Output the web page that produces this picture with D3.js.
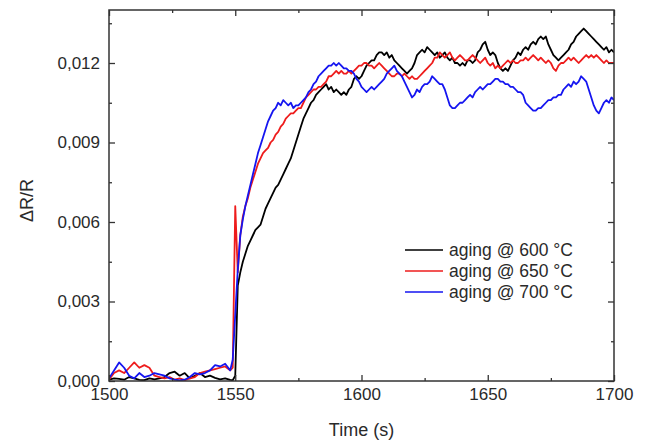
<!DOCTYPE html>
<html>
<head>
<meta charset="utf-8">
<script src="https://cdn.jsdelivr.net/npm/d3@7"></script>
<style>
html,body{margin:0;padding:0;background:#fff;}
svg{display:block;font-family:"Liberation Sans",Arial,sans-serif;}
</style>
</head>
<body>
<svg id="chart" width="650" height="444"></svg>
<script>
// ---- DATA ----
// sample times: 2 s steps on the baseline (1500..1548), 1 s steps from 1549 to 1700
const timeBase = d3.range(1500, 1549, 2);
const timeMain = d3.range(1549, 1701, 1);
const time = timeBase.concat(timeMain);

const seriesNames = ["aging @ 600 °C", "aging @ 650 °C", "aging @ 700 °C"];
const seriesColors = ["#000000", "#ee1c1c", "#1515f0"];

const aging600 = [
  // 1500..1548 (step 2)
  0.00005,0.0001,0.00008,0.00005,0.00015,0.0001,0.00004,0.00003,0.0001,0.00006,
  0.0001,0.00015,0.0003,0.00035,0.0002,0.0003,0.0001,0.0002,0.0003,0.00015,
  0.0002,0.00012,0.00006,0.0001,0.00004,
  // 1549
  0.00003,
  // 1550..1559
  0.0002,0.0036,0.0041,0.0045,0.0048,0.0051,0.0053,0.0055,0.0057,0.0058,
  // 1560..1569
  0.0059,0.0062,0.0065,0.0067,0.0069,0.0071,0.0073,0.0074,0.0076,0.0078,
  // 1570..1579
  0.0080,0.0082,0.0084,0.0087,0.0090,0.0093,0.0096,0.0099,0.0101,0.0103,
  // 1580..1589
  0.0105,0.0106,0.0108,0.0109,0.0110,0.0111,0.0112,0.0110,0.0111,0.0109,
  // 1590..1599
  0.0110,0.0109,0.0108,0.0109,0.0108,0.0110,0.0111,0.0114,0.0115,0.0114,
  // 1600..1609
  0.0115,0.0117,0.0119,0.0120,0.0121,0.0121,0.0123,0.0124,0.0124,0.0123,
  // 1610..1619
  0.0124,0.0122,0.0123,0.0121,0.0120,0.0119,0.0118,0.0117,0.0116,0.0117,
  // 1620..1629
  0.0118,0.0120,0.0123,0.0124,0.0125,0.0124,0.0126,0.0125,0.0124,0.0123,
  // 1630..1639
  0.0124,0.0122,0.0123,0.0124,0.0122,0.0121,0.0122,0.0120,0.0120,0.0119,
  // 1640..1649
  0.0120,0.0119,0.0121,0.0121,0.0120,0.0121,0.0124,0.0125,0.0127,0.0128,
  // 1650..1659
  0.0125,0.0123,0.0124,0.0123,0.0120,0.0118,0.0117,0.0118,0.0117,0.0119,
  // 1660..1669
  0.0121,0.0122,0.0124,0.0123,0.0125,0.0126,0.0125,0.0127,0.0128,0.0127,
  // 1670..1679
  0.0129,0.0130,0.0129,0.0130,0.0127,0.0125,0.0123,0.0122,0.0121,0.0122,
  // 1680..1689
  0.0123,0.0124,0.0125,0.0127,0.0128,0.0130,0.0131,0.0132,0.0133,0.0132,
  // 1690..1699
  0.0131,0.0130,0.0129,0.0128,0.0127,0.0126,0.0125,0.0126,0.0124,0.0125,
  // 1700
  0.0124
];

const aging650 = [
  // 1500..1548 (step 2)
  0.00005,0.0003,0.0004,0.0003,0.0005,0.0007,0.0005,0.0006,0.0005,0.0002,
  0.00015,0.0001,0.00015,0.00005,0.0001,0.00003,0.0001,0.00015,0.0003,0.00035,
  0.0004,0.00045,0.0005,0.00055,0.0004,
  // 1549
  0.0005,
  // 1550..1559
  0.0066,0.0041,0.0055,0.0062,0.0066,0.0069,0.0073,0.0076,0.0079,0.0082,
  // 1560..1569
  0.0084,0.0086,0.0087,0.0088,0.0090,0.0091,0.0093,0.0094,0.0096,0.0097,
  // 1570..1579
  0.0099,0.0100,0.0101,0.0101,0.0102,0.0103,0.0103,0.0105,0.0107,0.0108,
  // 1580..1589
  0.0109,0.0110,0.0110,0.0111,0.0111,0.0112,0.0113,0.0115,0.0115,0.0116,
  // 1590..1599
  0.0117,0.0116,0.0117,0.0116,0.0116,0.0117,0.0116,0.0117,0.0118,0.0119,
  // 1600..1609
  0.0119,0.0120,0.0120,0.0119,0.0119,0.0118,0.0119,0.0120,0.0119,0.0118,
  // 1610..1619
  0.0117,0.0116,0.0115,0.0115,0.0116,0.0116,0.0115,0.0116,0.0115,0.0114,
  // 1620..1629
  0.0115,0.0114,0.0114,0.0115,0.0116,0.0117,0.0118,0.0119,0.0120,0.0122,
  // 1630..1639
  0.0122,0.0124,0.0123,0.0122,0.0123,0.0124,0.0122,0.0121,0.0122,0.0123,
  // 1640..1649
  0.0122,0.0121,0.0121,0.0122,0.0123,0.0122,0.0121,0.0120,0.0121,0.0122,
  // 1650..1659
  0.0120,0.0119,0.0120,0.0118,0.0119,0.0118,0.0119,0.0120,0.0121,0.0120,
  // 1660..1669
  0.0121,0.0120,0.0120,0.0121,0.0121,0.0122,0.0121,0.0122,0.0123,0.0122,
  // 1670..1679
  0.0121,0.0122,0.0121,0.0120,0.0121,0.0120,0.0118,0.0117,0.0119,0.0120,
  // 1680..1689
  0.0120,0.0121,0.0122,0.0121,0.0122,0.0121,0.0120,0.0121,0.0122,0.0123,
  // 1690..1699
  0.0122,0.0123,0.0122,0.0123,0.0122,0.0121,0.0120,0.0121,0.0120,0.0120,
  // 1700
  0.0120
];

const aging700 = [
  // 1500..1548 (step 2)
  0.0001,0.0004,0.0007,0.0005,0.0002,0.0001,0.0003,0.00015,0.0002,0.0003,
  0.00025,0.0002,0.0001,0.00005,0.00002,0.00005,0.00015,0.0003,0.00025,0.0003,
  0.0004,0.0006,0.00055,0.00065,0.0004,
  // 1549
  0.0008,
  // 1550..1559
  0.0025,0.0042,0.0055,0.0061,0.0066,0.0070,0.0074,0.0078,0.0082,0.0086,
  // 1560..1569
  0.0089,0.0092,0.0095,0.0098,0.0100,0.0102,0.0103,0.0105,0.0104,0.0106,
  // 1570..1579
  0.0105,0.0104,0.0105,0.0103,0.0104,0.0104,0.0105,0.0106,0.0107,0.0109,
  // 1580..1589
  0.0110,0.0112,0.0113,0.0115,0.0116,0.0117,0.0118,0.0119,0.0119,0.0120,
  // 1590..1599
  0.0119,0.0120,0.0119,0.0118,0.0118,0.0117,0.0117,0.0116,0.0114,0.0113,
  // 1600..1609
  0.0111,0.0110,0.0109,0.0110,0.0111,0.0110,0.0111,0.0112,0.0113,0.0114,
  // 1610..1619
  0.0116,0.0117,0.0118,0.0119,0.0117,0.0116,0.0115,0.0113,0.0111,0.0109,
  // 1620..1629
  0.0107,0.0108,0.0110,0.0109,0.0111,0.0112,0.0112,0.0113,0.0115,0.0114,
  // 1630..1639
  0.0113,0.0112,0.0112,0.0110,0.0107,0.0104,0.0103,0.0103,0.0104,0.0105,
  // 1640..1649
  0.0105,0.0106,0.0107,0.0108,0.0107,0.0109,0.0110,0.0111,0.0110,0.0111,
  // 1650..1659
  0.0112,0.0112,0.0113,0.0114,0.0114,0.0113,0.0113,0.0112,0.0112,0.0111,
  // 1660..1669
  0.0111,0.0110,0.0109,0.0109,0.0108,0.0105,0.0104,0.0103,0.0102,0.0102,
  // 1670..1679
  0.0103,0.0103,0.0104,0.0105,0.0106,0.0106,0.0107,0.0107,0.0108,0.0108,
  // 1680..1689
  0.0110,0.0111,0.0112,0.0111,0.0113,0.0112,0.0113,0.0115,0.0114,0.0113,
  // 1690..1699
  0.0110,0.0107,0.0104,0.0102,0.0101,0.0103,0.0105,0.0106,0.0105,0.0107,
  // 1700
  0.0106
];

const xMajorTicks = [1500, 1550, 1600, 1650, 1700];
const xMinorTicks = [1525, 1575, 1625, 1675];
const yMajorTicks = [0, 0.003, 0.006, 0.009, 0.012];
const yMinorTicks = [0.0015, 0.0045, 0.0075, 0.0105, 0.0135];

// ---- CHART ----
const svg = d3.select("#chart");
const L = 109, R = 614, T = 10, B = 381;
const x = d3.scaleLinear().domain([1500, 1700]).range([L, R]);
const y = d3.scaleLinear().domain([0, 0.014]).range([B, T]);
const axisColor = "#333";
const fmt = v => d3.format(".3f")(v).replace(".", ",");

const plot = svg.append("g");
plot.append("clipPath").attr("id", "clip")
  .append("rect").attr("x", L).attr("y", T).attr("width", R - L).attr("height", B - T);

const seriesData = [aging600, aging650, aging700];
const line = d3.line().x((d, i) => x(time[i])).y(d => y(d));
const lines = plot.append("g").attr("clip-path", "url(#clip)");
seriesData.forEach((vals, k) => {
  lines.append("path")
    .datum(vals)
    .attr("d", line)
    .attr("fill", "none")
    .attr("stroke", seriesColors[k])
    .attr("stroke-width", 1.8)
    .attr("stroke-linejoin", "round");
});

function styleAxis(g) {
  g.select(".domain").remove();
  g.selectAll(".tick line").attr("stroke", axisColor).attr("stroke-width", 1.3);
  g.selectAll(".tick text").attr("fill", "#2a2a2a").style("font-size", "17px");
}

// bottom
svg.append("g").attr("transform", `translate(0,${B})`)
  .call(d3.axisBottom(x).tickValues(xMajorTicks).tickSize(-6).tickPadding(7).tickFormat(d3.format("d")))
  .call(styleAxis);
svg.append("g").attr("transform", `translate(0,${B})`)
  .call(d3.axisBottom(x).tickValues(xMinorTicks).tickSize(-3).tickFormat(""))
  .call(styleAxis);
// top
svg.append("g").attr("transform", `translate(0,${T})`)
  .call(d3.axisTop(x).tickValues(xMajorTicks).tickSize(-6).tickFormat(""))
  .call(styleAxis);
svg.append("g").attr("transform", `translate(0,${T})`)
  .call(d3.axisTop(x).tickValues(xMinorTicks).tickSize(-3).tickFormat(""))
  .call(styleAxis);
// left
svg.append("g").attr("transform", `translate(${L},0)`)
  .call(d3.axisLeft(y).tickValues(yMajorTicks).tickSize(-6).tickPadding(9).tickFormat(fmt))
  .call(styleAxis);
svg.append("g").attr("transform", `translate(${L},0)`)
  .call(d3.axisLeft(y).tickValues(yMinorTicks).tickSize(-3).tickFormat(""))
  .call(styleAxis);
// right
svg.append("g").attr("transform", `translate(${R},0)`)
  .call(d3.axisRight(y).tickValues(yMajorTicks).tickSize(-6).tickFormat(""))
  .call(styleAxis);
svg.append("g").attr("transform", `translate(${R},0)`)
  .call(d3.axisRight(y).tickValues(yMinorTicks).tickSize(-3).tickFormat(""))
  .call(styleAxis);

// frame
svg.append("rect").attr("x", L).attr("y", T).attr("width", R - L).attr("height", B - T)
  .attr("fill", "none").attr("stroke", axisColor).attr("stroke-width", 1.5);

// axis titles
svg.append("text").attr("x", (L + R) / 2).attr("y", 436)
  .attr("text-anchor", "middle").attr("fill", "#2a2a2a").style("font-size", "18px")
  .text("Time (s)");
svg.append("text").attr("transform", `translate(33,${(T + B) / 2 + 5}) rotate(-90)`)
  .attr("text-anchor", "middle").attr("fill", "#2a2a2a").style("font-size", "18px")
  .text("ΔR/R");

// legend
const legend = svg.append("g");
seriesNames.forEach((name, k) => {
  const ly = 250 + k * 21;
  legend.append("line").attr("x1", 405).attr("x2", 443).attr("y1", ly).attr("y2", ly)
    .attr("stroke", seriesColors[k]).attr("stroke-width", 1.6);
  legend.append("text").attr("x", 449).attr("y", ly).attr("dy", "0.35em")
    .attr("fill", "#2a2a2a").style("font-size", "17.5px").text(name);
});
</script>
</body>
</html>
